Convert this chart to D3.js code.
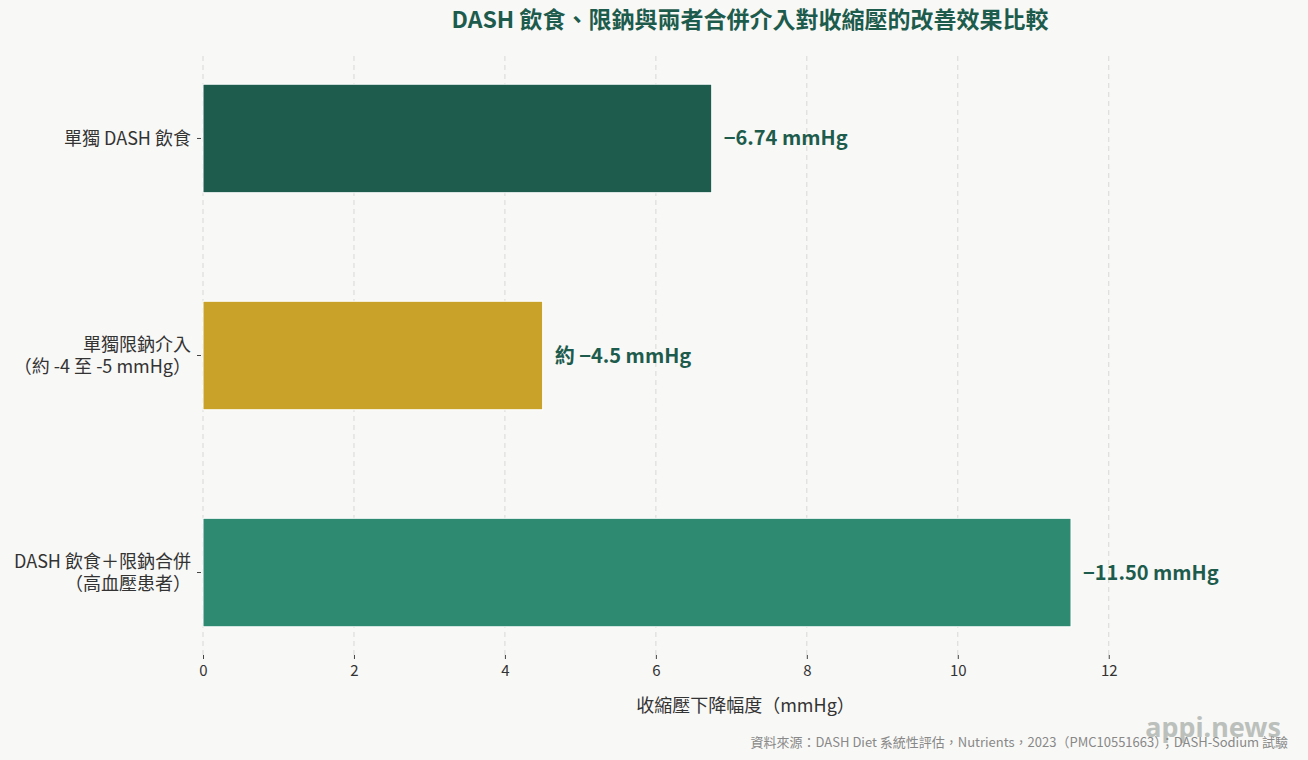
<!DOCTYPE html>
<html><head><meta charset="utf-8">
<script src="https://cdn.jsdelivr.net/npm/d3@7"></script>
<style>
html,body{margin:0;padding:0;background:#f8f8f6;}
svg{display:block;}
svg text{font-family:"Noto Sans CJK TC","Noto Sans",sans-serif;}
</style></head><body>
<svg id="c" width="1308" height="760"></svg>
<script>
const categories = [["單獨 DASH 飲食"], ["單獨限鈉介入", "（約 -4 至 -5 mmHg）"], ["DASH 飲食＋限鈉合併", "（高血壓患者）"]];
const values = [6.74, 4.5, 11.5];
const valueLabels = ["−6.74 mmHg", "約 −4.5 mmHg", "−11.50 mmHg"];
const barColors = ["#1e5c4e", "#c9a229", "#2e8b72"];
const xTicks = [0, 2, 4, 6, 8, 10, 12];
const title = "DASH 飲食、限鈉與兩者合併介入對收縮壓的改善效果比較";
const xTitle = "收縮壓下降幅度（mmHg）";
const source = "資料來源：DASH Diet 系統性評估，Nutrients，2023（PMC10551663）；DASH-Sodium 試驗";

const FONT = "'Noto Sans CJK TC','Noto Sans',sans-serif";
const svg = d3.select("#c");
svg.append("rect").attr("width",1308).attr("height",760).attr("fill","#f8f8f6");
const m = {l:203, r:20, t:56, b:105};
const W = 1308, H = 760;
const x = d3.scaleLinear().domain([0, d3.max(values)*1.25]).range([m.l, W-m.r]);
const idx = d3.range(categories.length);
const y = d3.scaleBand().domain(idx).range([m.t, H-m.b]).paddingInner(0.5).paddingOuter(0.13);

// grid
svg.append("g").selectAll("line").data(xTicks).join("line")
  .attr("x1",d=>x(d)).attr("x2",d=>x(d)).attr("y1",m.t).attr("y2",H-m.b)
  .attr("stroke","#d8d8d8").attr("stroke-width",1).attr("stroke-dasharray","5,4");

// bars
svg.append("g").selectAll("rect").data(idx).join("rect")
  .attr("x",x(0)).attr("y",i=>y(i)).attr("width",i=>x(values[i])-x(0)).attr("height",y.bandwidth())
  .attr("fill",i=>barColors[i]).attr("stroke","#ffffff").attr("stroke-width",1);

// value labels
svg.append("g").selectAll("text").data(idx).join("text")
  .attr("x",i=>x(values[i])+12).attr("y",i=>y(i)+y.bandwidth()/2).attr("dy","0.35em")
  .attr("fill","#1d5c4d").attr("font-size",20).attr("font-weight",700)
  .text(i=>valueLabels[i]);

// x axis
const xa = svg.append("g").attr("transform",`translate(0,${H-m.b})`)
  .call(d3.axisBottom(x).tickValues(xTicks).tickSize(4).tickPadding(6).tickFormat(d3.format("d")));
xa.attr("font-family",FONT);
xa.select(".domain").remove();
xa.selectAll("line").attr("stroke","#444");
xa.selectAll("text").attr("font-size",15).attr("fill","#333");

// y axis
const ya = svg.append("g").attr("transform",`translate(${m.l-2},0)`)
  .call(d3.axisLeft(y).tickSize(4).tickPadding(6).tickFormat(""));
ya.attr("font-family",FONT);
ya.select(".domain").remove();
ya.selectAll("line").attr("stroke","#444");
ya.selectAll(".tick").each(function(i){
  const lines = categories[i];
  const g = d3.select(this);
  const n = lines.length;
  lines.forEach((s,k)=>{
    g.append("text").attr("fill","#333").attr("font-size",18)
      .attr("text-anchor","end").attr("x",-10)
      .attr("y",(k-(n-1)/2)*22).attr("dy","0.35em").text(s);
  });
});

// x title
svg.append("text").attr("x",(m.l+W-m.r)/2).attr("y",712).attr("text-anchor","middle")
  .attr("font-size",18).attr("fill","#333").text(xTitle);

// title
svg.append("text").attr("x",750).attr("y",28).attr("text-anchor","middle")
  .attr("font-size",23).attr("font-weight",700).attr("fill","#1d5c4d").text(title);

// watermark
svg.append("text").attr("x",1281).attr("y",737).attr("text-anchor","end")
  .attr("font-size",27).attr("font-weight",700).attr("fill","#aeb3ae").attr("opacity",0.8)
  .style("font-family","'Noto Sans','DejaVu Sans',sans-serif").text("appi.news");

// source
svg.append("text").attr("x",1288).attr("y",747).attr("text-anchor","end")
  .attr("font-size",13).attr("fill","#888").text(source);
</script></body></html>
